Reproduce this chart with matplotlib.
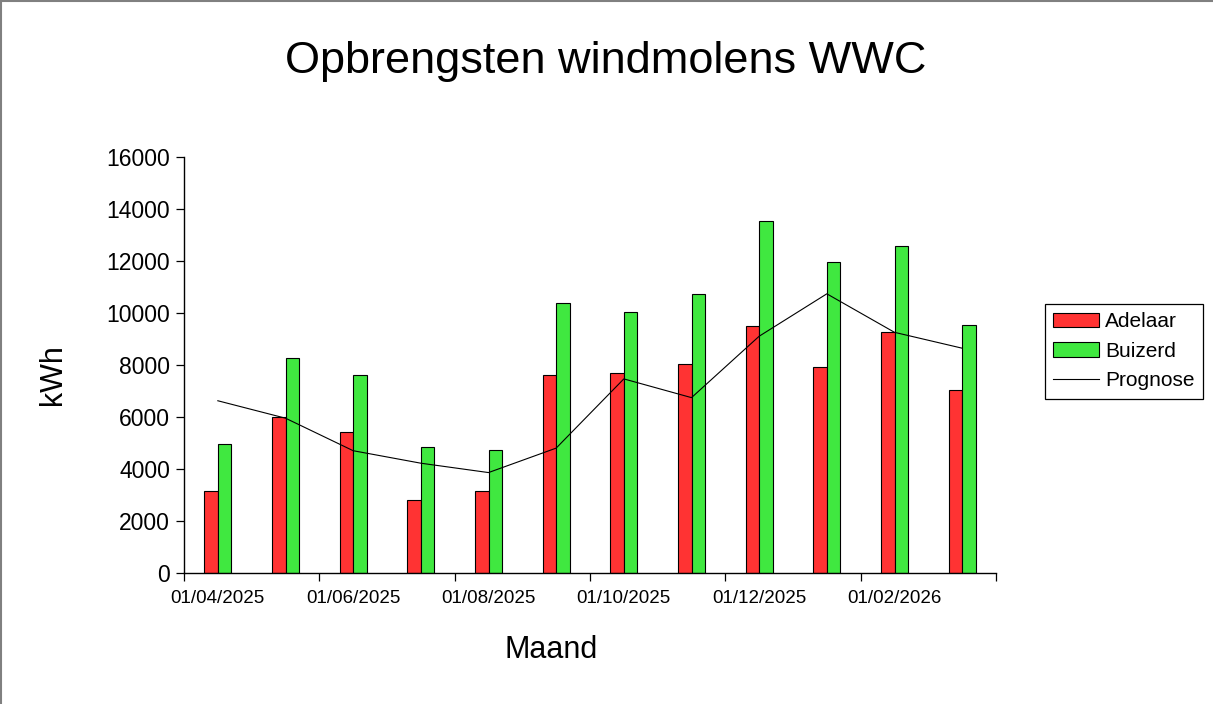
import matplotlib
matplotlib.use("Agg")
import matplotlib.pyplot as plt
from matplotlib.lines import Line2D
import numpy as np

plt.rcParams['font.family'] = ['Liberation Sans', 'DejaVu Sans']

months = ['04/2025', '05/2025', '06/2025', '07/2025', '08/2025', '09/2025',
          '10/2025', '11/2025', '12/2025', '01/2026', '02/2026', '03/2026']
adelaar = [3150, 6000, 5400, 2800, 3150, 7600, 7700, 8050, 9480, 7900, 9280, 7020]
buizerd = [4950, 8250, 7600, 4840, 4720, 10370, 10050, 10710, 13530, 11940, 12560, 9520]
prognose = [6620, 5950, 4700, 4220, 3860, 4800, 7460, 6740, 9100, 10730, 9250, 8640]
tick_labels = ['01/04/2025', '01/06/2025', '01/08/2025', '01/10/2025', '01/12/2025', '01/02/2026']
y_ticks = [0, 2000, 4000, 6000, 8000, 10000, 12000, 14000, 16000]

W, H = 1213, 704
fig = plt.figure(figsize=(W / 100, H / 100), dpi=100)
ax = fig.add_axes([184 / W, 1 - 573 / H, (996 - 184) / W, (573 - 156.7) / H])

x = np.arange(len(months)) + 0.5
bw = 0.2
b1 = ax.bar(x - bw / 2, adelaar, width=bw, color='#FF3333', edgecolor='black', linewidth=0.8, label='Adelaar')
b2 = ax.bar(x + bw / 2, buizerd, width=bw, color='#40E840', edgecolor='black', linewidth=0.8, label='Buizerd')
l1, = ax.plot(x, prognose, color='black', linewidth=0.8, label='Prognose')

ax.set_xlim(0, len(months))
ax.set_ylim(0, 16000)
# major ticks at every second month boundary (marks only)
ax.set_xticks(np.arange(0, len(months) + 1, 2))
ax.set_xticklabels([''] * len(np.arange(0, len(months) + 1, 2)))
# labels centred under the first month of each pair
ax.set_xticks(np.arange(0, len(months), 2) + 0.5, minor=True)
ax.set_xticklabels(tick_labels, minor=True, fontsize=13.5)
ax.tick_params(axis='x', which='minor', length=0, pad=12)
ax.set_yticks(y_ticks)
ax.set_yticklabels([str(v) for v in y_ticks], fontsize=16.5)
ax.tick_params(axis='x', which='major', length=6, width=0.9, direction='out', colors='black')
ax.tick_params(axis='y', length=6, width=0.9, pad=4, direction='out', colors='black')
for s in ['top', 'right']:
    ax.spines[s].set_visible(False)
for s in ['left', 'bottom']:
    ax.spines[s].set_linewidth(1.0)
    ax.spines[s].set_color('black')

fig.text(605.5 / W, 1 - 61 / H, 'Opbrengsten windmolens WWC', ha='center', va='center', fontsize=32.5)
fig.text(551 / W, 1 - 650 / H, 'Maand', ha='center', va='center', fontsize=22)
fig.text(53 / W, 1 - 375 / H, 'kWh', ha='center', va='center', fontsize=22, rotation=90)

leg = ax.legend(handles=[b1, b2, l1], loc='upper left', bbox_to_anchor=(1045 / W, 1 - 304 / H),
                bbox_transform=fig.transFigure,
                borderaxespad=0, fancybox=False, edgecolor='black', framealpha=1, fontsize=15,
                handlelength=2.2, handleheight=0.7, handletextpad=0.3, labelspacing=0.5,
                borderpad=0.4)
leg.get_frame().set_linewidth(0.9)

fig.add_artist(Line2D([0.5 / W, 0.5 / W], [0, 1], transform=fig.transFigure, color='#808080', linewidth=1.5))
fig.add_artist(Line2D([0, 1], [1 - 0.5 / H, 1 - 0.5 / H], transform=fig.transFigure, color='#808080', linewidth=1.5))

fig.savefig('out.png', dpi=100)
